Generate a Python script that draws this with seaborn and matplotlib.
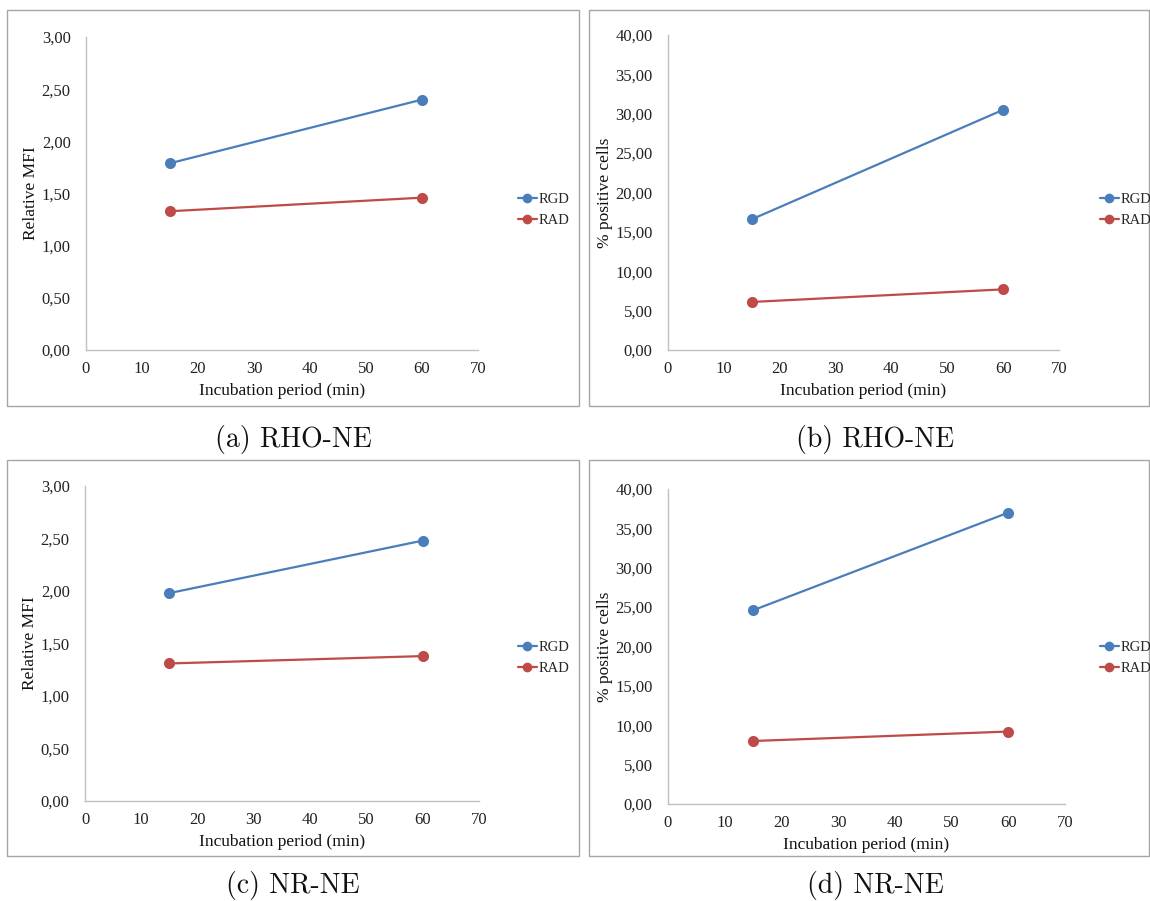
import matplotlib
matplotlib.use("Agg")
import matplotlib.pyplot as plt
from matplotlib.lines import Line2D
from matplotlib.patches import Rectangle
from matplotlib.ticker import FuncFormatter, MultipleLocator
import numpy as np
import pandas as pd
import seaborn as sns

# Incubation times (min)
times = [15, 60]
peptides = ["RGD", "RAD"]

# (a) RHO-NE relative MFI
rho_mfi_rgd = [1.79, 2.40]
rho_mfi_rad = [1.33, 1.46]
# (b) RHO-NE % positive cells
rho_pos_rgd = [16.6, 30.5]
rho_pos_rad = [6.1, 7.7]
# (c) NR-NE relative MFI
nr_mfi_rgd = [1.98, 2.48]
nr_mfi_rad = [1.31, 1.38]
# (d) NR-NE % positive cells
nr_pos_rgd = [24.6, 37.0]
nr_pos_rad = [8.0, 9.2]

captions = ["(a) RHO-NE", "(b) RHO-NE", "(c) NR-NE", "(d) NR-NE"]
ylabels = ["Relative MFI", "% positive cells", "Relative MFI", "% positive cells"]

sns.set_theme(style="white")
plt.rcParams["font.family"] = ["Liberation Serif", "DejaVu Serif"]

W, H = 1150, 901
fig = plt.figure(figsize=(W / 100, H / 100), dpi=100)
fig.patch.set_facecolor("white")

colors = {"RGD": "#4A7EBB", "RAD": "#BE4B48"}


def frac_rect(x0, y0, x1, y1):
    return [x0 / W, 1 - y1 / H, (x1 - x0) / W, (y1 - y0) / H]


panels = [
    dict(rgd=rho_mfi_rgd, rad=rho_mfi_rad, ymax=3.0, ystep=0.5,
         ax=(86, 37, 478, 350), box=(7, 10, 579, 406), cap=(293, 439),
         leg=(518, 210)),
    dict(rgd=rho_pos_rgd, rad=rho_pos_rad, ymax=40.0, ystep=5.0,
         ax=(668, 35, 1059, 350), box=(589, 10, 1149, 406), cap=(875, 439),
         leg=(1100, 210)),
    dict(rgd=nr_mfi_rgd, rad=nr_mfi_rad, ymax=3.0, ystep=0.5,
         ax=(85, 486, 479, 801), box=(7, 460, 579, 856), cap=(293, 885),
         leg=(518, 658)),
    dict(rgd=nr_pos_rgd, rad=nr_pos_rad, ymax=40.0, ystep=5.0,
         ax=(668, 489, 1065, 804), box=(589, 460, 1149, 856), cap=(875, 885),
         leg=(1100, 658)),
]

comma = FuncFormatter(lambda v, p: f"{v:.2f}".replace(".", ","))

for i, p in enumerate(panels):
    # panel frame
    bx0, by0, bx1, by1 = p["box"]
    fig.patches.append(Rectangle((bx0 / W, 1 - by1 / H), (bx1 - bx0) / W,
                                 (by1 - by0) / H, transform=fig.transFigure,
                                 fill=False, edgecolor="#a6a6a6", linewidth=1.0))

    ax = fig.add_axes(frac_rect(*p["ax"]))
    df = pd.DataFrame({
        "time": times * 2,
        "value": p["rgd"] + p["rad"],
        "peptide": [peptides[0]] * 2 + [peptides[1]] * 2,
    })
    sns.lineplot(data=df, x="time", y="value", hue="peptide",
                 palette=colors, marker="o", markersize=8, linewidth=1.6,
                 markeredgecolor="none", legend=False, ax=ax, clip_on=False)

    ax.set_xlim(0, 70)
    ax.set_ylim(0, p["ymax"])
    ax.xaxis.set_major_locator(MultipleLocator(10))
    ax.yaxis.set_major_locator(MultipleLocator(p["ystep"]))
    ax.yaxis.set_major_formatter(comma)
    ax.tick_params(axis="both", length=0, labelsize=12, colors="#222222")
    ax.tick_params(axis="y", pad=11)
    ax.tick_params(axis="x", pad=8)
    for s in ["top", "right"]:
        ax.spines[s].set_visible(False)
    for s in ["left", "bottom"]:
        ax.spines[s].set_color("#c0c0c0")
        ax.spines[s].set_linewidth(1.0)
    ax.set_facecolor("none")
    ax.set_xlabel("Incubation period (min)", fontsize=12.5, color="#111111",
                  labelpad=4)
    ax.set_ylabel(ylabels[i], fontsize=12.5, color="#111111", labelpad=2)

    handles = [Line2D([0], [0], color=colors[k], marker="o", markersize=7,
                      linewidth=1.6, markeredgecolor="none") for k in peptides]
    lx, ly = p["leg"]
    fig.legend(handles, peptides, loc="center left",
               bbox_to_anchor=(lx / W, 1 - ly / H), frameon=False,
               fontsize=10.5, handlelength=1.3, handletextpad=0.1,
               labelspacing=0.55, borderpad=0, borderaxespad=0)

    cx, cy = p["cap"]
    fig.text(cx / W, 1 - cy / H, captions[i], ha="center", va="center",
             fontsize=20, family=["cmr10", "DejaVu Serif"], color="#111111")

fig.savefig("out.png", dpi=100, facecolor="white")
